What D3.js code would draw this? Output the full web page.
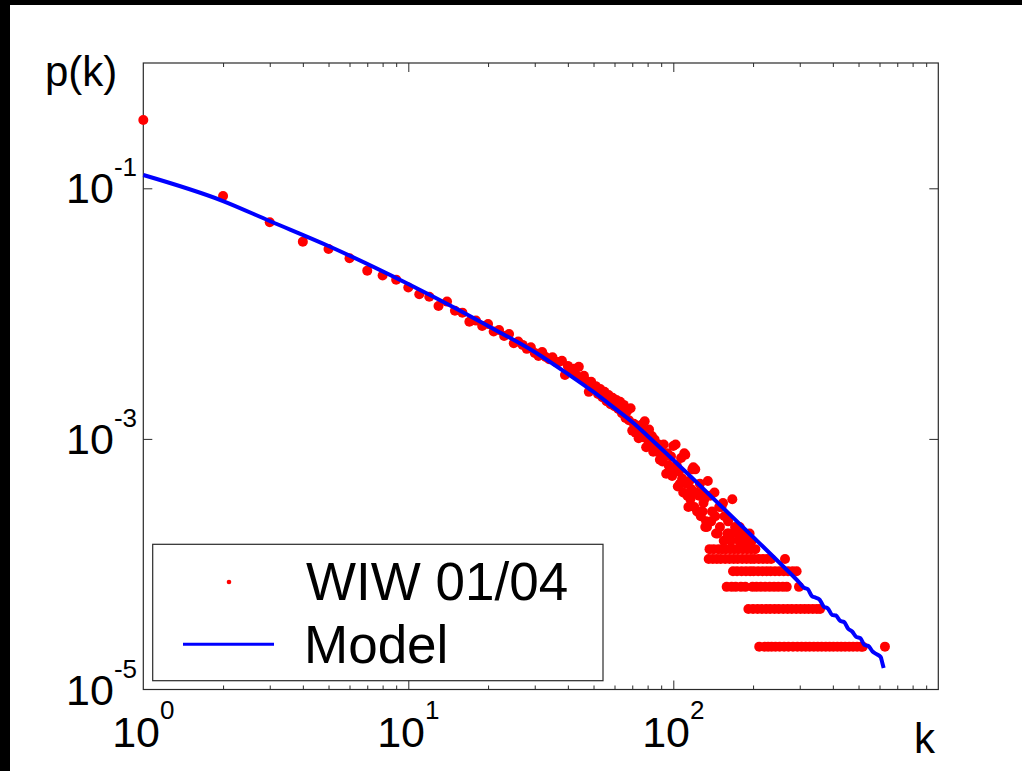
<!DOCTYPE html>
<html><head><meta charset="utf-8">
<script src="https://cdnjs.cloudflare.com/ajax/libs/d3/7.8.5/d3.min.js"></script>
<style>html,body{margin:0;padding:0;background:#000;overflow:hidden}</style>
</head><body><svg id="c" width="1022" height="771"></svg>
<script>
// ---- data (degree distribution, counts out of totalNodes) ----
const totalNodes = 45500;
const degrees = [1,2,3,4,5,6,7,8,9,10,11,12,13,14,15,16,17,18,19,20,21,22,23,24,25,26,27,28,29,30,31,32,33,34,35,36,
37,38,39,40,41,42,43,44,45,46,47,48,49,50,51,52,53,54,55,56,57,58,59,60,61,62,63,64,65,66,67,68,69,70,
71,72,73,74,75,76,77,78,79,80,81,82,83,84,85,86,87,88,89,90,91,92,93,94,95,96,97,98,99,100,
101,102,103,104,105,106,107,108,109,110,111,112,113,114,115,116,117,118,119,120,121,122,123,124,125,126,127,128,129,130,
131,132,133,134,135,136,137,138,139,140,141,142,143,144,145,146,147,148,149,150,151,152,153,154,155,156,157,158,159,160,161,162,163,164,
165,166,167,168,169,170,171,172,173,174,175,176,177,178,179,180,181,182,183,184,185,186,187,188,189,190,191,192,193,194,195,196,197,198,199,200,201,202,
204,206,208,209,210,211,214,216,217,218,221,222,224,225,226,228,231,232,233,234,235,240,241,242,243,249,250,251,252,
259,260,261,262,264,268,270,271,272,280,282,283,291,292,294,298,302,305,313,316,324,327,336,339,348,351,358,363,
376,389,402,416,430,445,461,477,494,511,519,629];
const counts = [15980,3954,2438,1707,1493,1258,1002,917,849,736,649,621,524,567,480,463,392,400,363,376,327,337,302,313,264,272,256,238,245,221,209,225,205,197,204,187,
187,191,147,174,156,165,147,171,140,145,132,108,130,116,120,104,114,98,108,91,102,86,97,83,93,79,90,73,85,67,76,64,80,53,
60,51,58,46,55,59,47,63,39,45,54,41,48,36,45,39,36,41,31,37,30,41,33,24,35,28,26,33,23,40,
27,41,28,19,25,20,32,22,17,35,34,20,16,13,21,15,18,26,27,13,26,17,12,12,16,20,11,17,12,14,
15,9,10,9,21,5,6,16,10,12,5,6,17,11,8,5,8,6,13,9,5,13,6,14,7,11,5,6,3,8,10,8,5,6,
7,3,15,4,5,6,9,3,8,4,5,6,7,9,7,3,4,5,6,8,7,8,3,4,5,6,7,2,7,8,4,5,6,7,3,2,4,5,
6,3,2,4,5,1,3,2,4,5,1,3,2,4,5,1,3,2,4,5,1,3,2,4,1,3,2,4,1,
3,2,4,1,5,3,2,4,1,2,4,1,2,4,1,3,2,1,2,1,2,1,2,1,2,1,2,1,
1,1,1,1,1,1,1,1,1,1,1,1];
const modelDegrees = [1,2,3,5,10,15,20,30,40,50,60,70,80,100,120,150,200,250,300,
  311,322,333,345,357,370,383,397,411,426,441,457,473,490,508,526,545,565,585,606,615,622];
const modelP = [0.1277,0.07916,0.05483,0.03463,0.01723,0.01108,0.007963,0.00494,0.00330,0.00237,0.00176,0.001364,0.001055,0.000679,0.0004699,0.000297,0.000165,0.0001041,0.0000708,
  0.00006505,0.00006304,0.00005585,0.00005403,0.00005189,0.00004579,0.00004438,0.00003946,0.00003896,0.00003534,0.00003457,0.00003051,0.00002903,0.00002634,0.00002567,0.00002270,0.00002221,0.00002010,0.00001913,0.00001817,0.00001627,0.00001484];
const xLabelValues = [1,10,100];
const xLabelExponents = ["0","1","2"];
const yLabelValues = [1e-1,1e-3,1e-5];
const yLabelExponents = ["-1","-3","-5"];
const legendLabels = ["WIW 01/04","Model"];
const xAxisTitle = "k", yAxisTitle = "p(k)";

// ---- drawing ----
const svg = d3.select("#c");
const FONT = "'Liberation Sans', Arial, Helvetica, sans-serif";
const L = 143.3, R = 938.3, T = 63, B = 689.5;
const x = d3.scaleLog().domain([1,1000]).range([L,R]);
const y = d3.scaleLog().domain([1e-5,1]).range([B,T]);

svg.append("rect").attr("width",1022).attr("height",771).attr("fill","#000");
svg.append("rect").attr("x",10).attr("y",5).attr("width",1012).attr("height",766).attr("fill","#fff");

const axisColor = "#2a2a2a";
const minorX = [];
[1,10,100].forEach(d => { for (let m=2;m<=9;m++) minorX.push(d*m); });
function styleAxis(g){ g.select(".domain").remove(); g.selectAll("text").remove(); g.selectAll("line").attr("stroke",axisColor).attr("stroke-width",1); }
svg.append("g").attr("transform",`translate(0,${B})`).call(d3.axisBottom(x).tickValues(minorX).tickSize(-4).tickFormat("")).call(styleAxis);
svg.append("g").attr("transform",`translate(0,${B})`).call(d3.axisBottom(x).tickValues([10,100]).tickSize(-9).tickFormat("")).call(styleAxis);
svg.append("g").attr("transform",`translate(0,${T})`).call(d3.axisTop(x).tickValues(minorX).tickSize(-4).tickFormat("")).call(styleAxis);
svg.append("g").attr("transform",`translate(0,${T})`).call(d3.axisTop(x).tickValues([10,100]).tickSize(-9).tickFormat("")).call(styleAxis);
svg.append("g").attr("transform",`translate(${L},0)`).call(d3.axisLeft(y).tickValues([1e-1,1e-3]).tickSize(-9).tickFormat("")).call(styleAxis);
svg.append("g").attr("transform",`translate(${R},0)`).call(d3.axisRight(y).tickValues([1e-1,1e-3]).tickSize(-9).tickFormat("")).call(styleAxis);
svg.append("rect").attr("x",L).attr("y",T).attr("width",R-L).attr("height",B-T)
  .attr("fill","none").attr("stroke",axisColor).attr("stroke-width",1.2);

// data points
const pts = degrees.map((k,i)=>({k, p: counts[i]/totalNodes}));
svg.append("g").selectAll("circle").data(pts).join("circle")
  .attr("cx",d=>x(d.k)).attr("cy",d=>y(d.p)).attr("r",5).attr("fill","#ff0000");

// model line
const model = modelDegrees.map((k,i)=>({k,p:modelP[i]}));
svg.append("path").datum(model)
  .attr("d", d3.line().x(d=>x(d.k)).y(d=>y(d.p)).curve(d3.curveMonotoneX))
  .attr("fill","none").attr("stroke","#0000ff").attr("stroke-width",4).attr("stroke-linejoin","round");

// tick labels
xLabelValues.forEach((v,i)=>{
  const t = svg.append("text").attr("x",x(v)).attr("y",747).attr("text-anchor","middle")
    .attr("font-family",FONT).attr("font-size",43).attr("fill","#000");
  t.append("tspan").text("10");
  t.append("tspan").attr("dy",-28).attr("font-size",26).text(xLabelExponents[i]);
});
yLabelValues.forEach((v,i)=>{
  const t = svg.append("text").attr("x",137).attr("y",y(v)+15).attr("text-anchor","end")
    .attr("font-family",FONT).attr("font-size",43).attr("fill","#000");
  t.append("tspan").text("10");
  t.append("tspan").attr("dy",-27).attr("font-size",26).text(yLabelExponents[i]);
});
svg.append("text").attr("x",45).attr("y",86).attr("font-family",FONT).attr("font-size",42).text(yAxisTitle);
svg.append("text").attr("x",914).attr("y",753).attr("font-family",FONT).attr("font-size",42).text(xAxisTitle);

// legend
const lg = svg.append("g");
lg.append("rect").attr("x",152.7).attr("y",544.3).attr("width",450.3).attr("height",136.4)
  .attr("fill","#fff").attr("stroke",axisColor).attr("stroke-width",1.2);
lg.append("circle").attr("cx",229).attr("cy",582).attr("r",2.3).attr("fill","#ff0000");
lg.append("line").attr("x1",183).attr("x2",274).attr("y1",644.3).attr("y2",644.3).attr("stroke","#0000ff").attr("stroke-width",3);
lg.append("text").attr("x",306).attr("y",600).attr("font-family",FONT).attr("font-size",53).text(legendLabels[0]);
lg.append("text").attr("x",304).attr("y",663).attr("font-family",FONT).attr("font-size",53).text(legendLabels[1]);
</script></body></html>
